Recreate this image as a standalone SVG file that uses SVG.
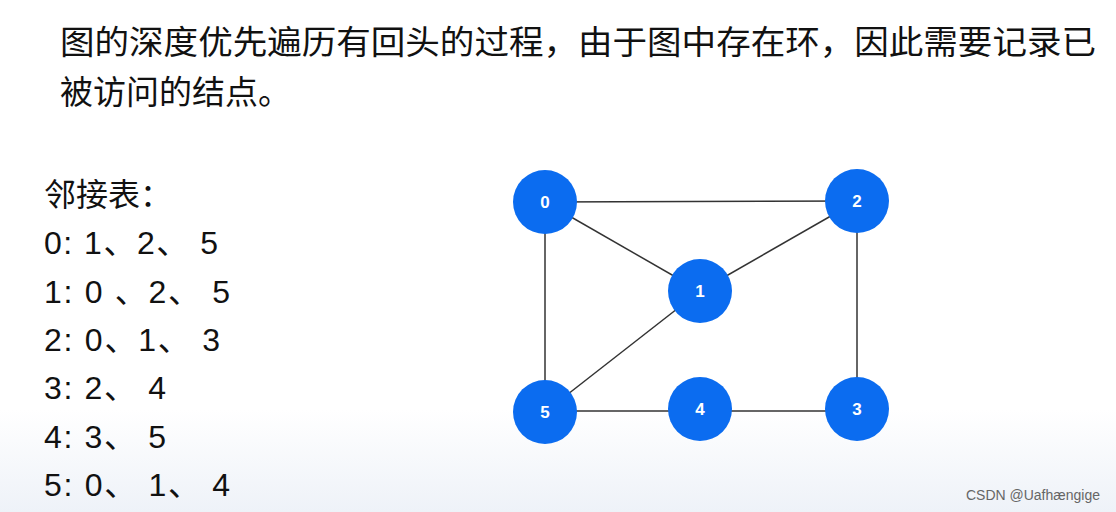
<svg xmlns="http://www.w3.org/2000/svg" width="1116" height="512" viewBox="0 0 1116 512">
<style>
.t{font-family:"Noto Sans CJK SC","Liberation Sans",sans-serif;font-size:33px;fill:#111}
.l{font-family:"Liberation Sans","Noto Sans CJK SC",sans-serif;font-size:32px;fill:#111}
.n circle{fill:#0b6cf0}
.n text{font-family:"Liberation Sans",sans-serif;font-size:17px;font-weight:bold;fill:#fff;text-anchor:middle;dominant-baseline:central}
#edges line{stroke:#333;stroke-width:1.5}
</style>
<defs><linearGradient id="bg" x1="0" y1="0" x2="0" y2="1"><stop offset="0.8" stop-color="#fff"/><stop offset="1" stop-color="#eef2f8"/></linearGradient></defs>
<rect width="1116" height="512" fill="url(#bg)"/>
<text class="t" x="60" y="54" textLength="1036" lengthAdjust="spacingAndGlyphs">图的深度优先遍历有回头的过程，由于图中存在环，因此需要记录已</text>
<text class="t" x="60" y="104">被访问的结点。</text>
<text class="l" x="44" y="206">邻接表：</text>
<text class="l" x="44" y="254" textLength="174">0: 1、2、 5</text>
<text class="l" x="44" y="303" textLength="186">1: 0 、2、 5</text>
<text class="l" x="44" y="351" textLength="176">2: 0、1、 3</text>
<text class="l" x="44" y="399" textLength="122">3: 2、 4</text>
<text class="l" x="44" y="448" textLength="122">4: 3、 5</text>
<text class="l" x="44" y="496" textLength="186">5: 0、 1、 4</text>
<g id="edges">
<line x1="545" y1="202" x2="857" y2="201"/>
<line x1="545" y1="202" x2="700" y2="291"/>
<line x1="857" y1="201" x2="700" y2="291"/>
<line x1="545" y1="202" x2="545" y2="412"/>
<line x1="857" y1="201" x2="857" y2="409"/>
<line x1="700" y1="291" x2="545" y2="412"/>
<line x1="545" y1="411" x2="857" y2="411"/>
</g>
<g id="n0" class="n"><circle cx="545" cy="202" r="32"/><text x="545" y="202">0</text></g>
<g id="n2" class="n"><circle cx="857" cy="201" r="32"/><text x="857" y="201">2</text></g>
<g id="n1" class="n"><circle cx="700" cy="291" r="32"/><text x="700" y="291">1</text></g>
<g id="n5" class="n"><circle cx="545" cy="412" r="32"/><text x="545" y="412">5</text></g>
<g id="n4" class="n"><circle cx="700" cy="409" r="32"/><text x="700" y="409">4</text></g>
<g id="n3" class="n"><circle cx="857" cy="409" r="32"/><text x="857" y="409">3</text></g>
<text x="1100" y="500" text-anchor="end" font-family="Liberation Sans,sans-serif" font-size="14" fill="#666">CSDN @Uafhængige</text>
</svg>
